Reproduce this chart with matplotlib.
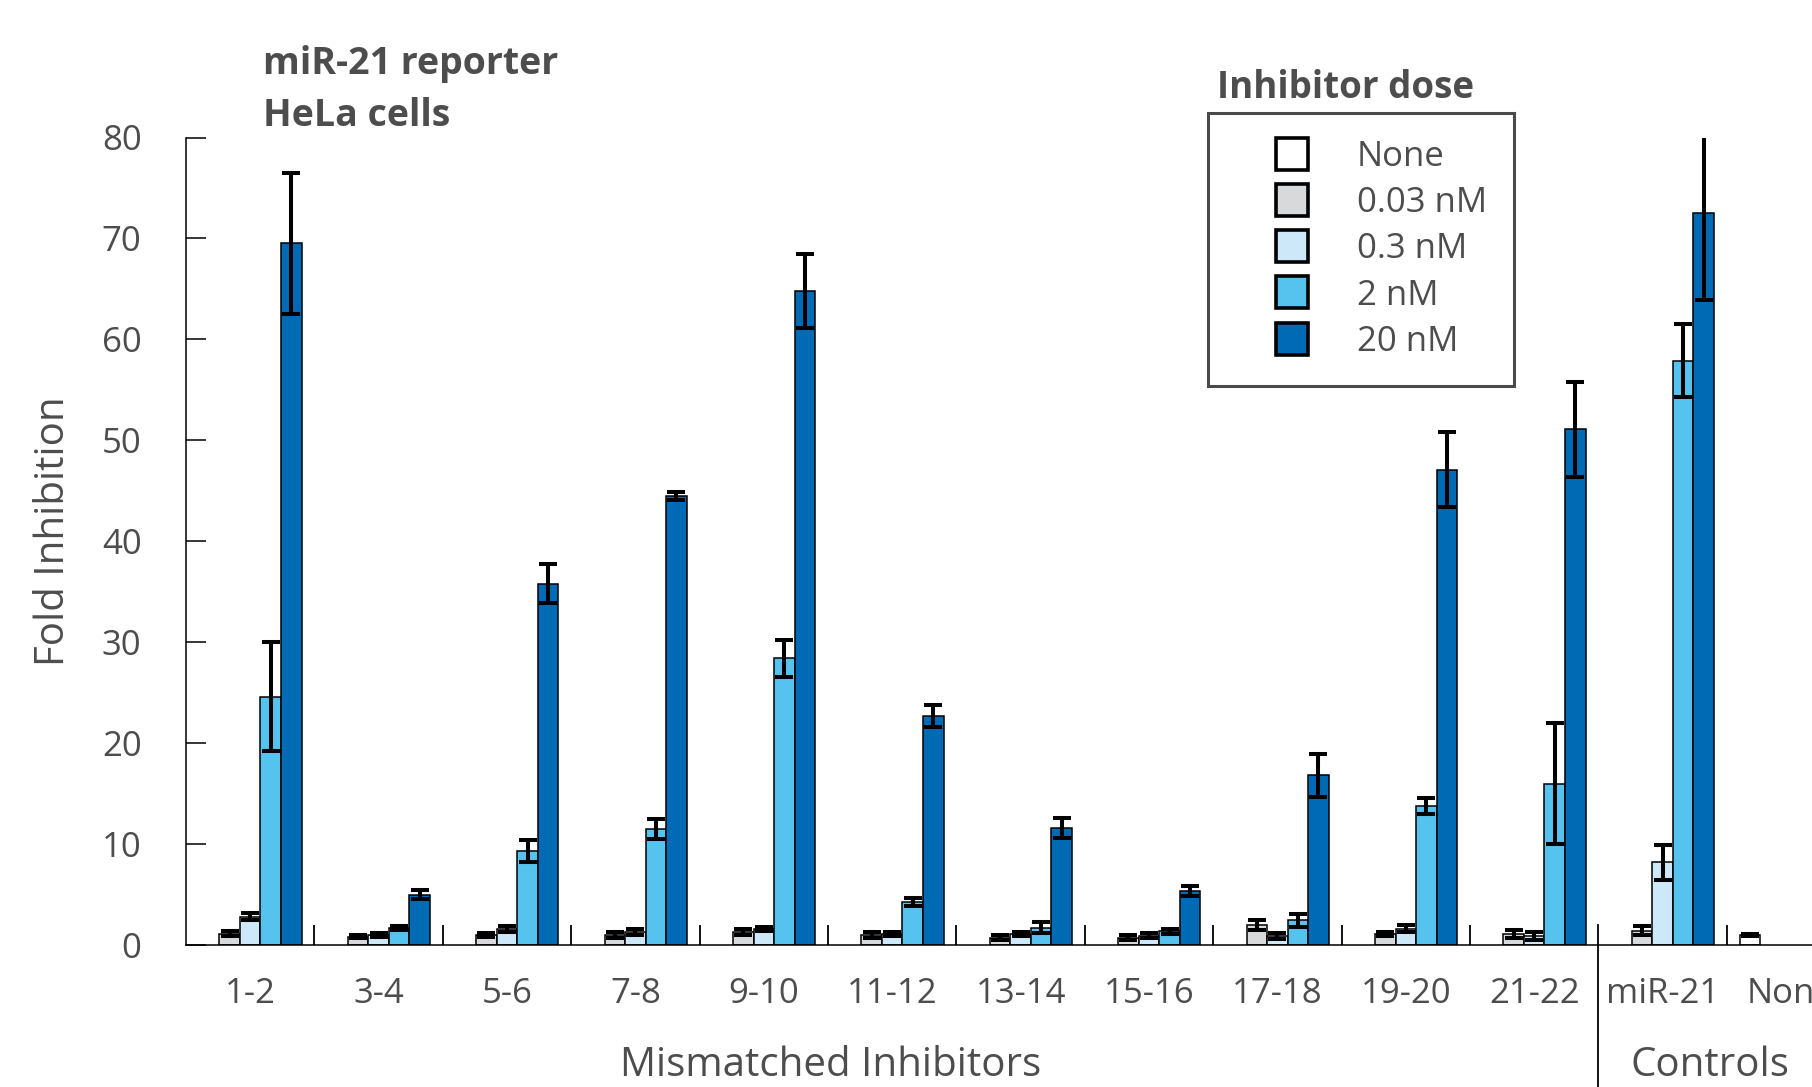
import numpy as np
import matplotlib
matplotlib.use("Agg")
import matplotlib.pyplot as plt
from matplotlib.lines import Line2D

plt.rcParams['font.family'] = ['Open Sans', 'DejaVu Sans']

nan = np.nan

categories = ['1-2', '3-4', '5-6', '7-8', '9-10', '11-12', '13-14',
              '15-16', '17-18', '19-20', '21-22', 'miR-21', 'None']
dose_labels = ['None', '0.03 nM', '0.3 nM', '2 nM', '20 nM']
dose_colors = ['#ffffff', '#d8d9db', '#cde8f8', '#56c3ef', '#006ab5']

# fold inhibition per dose, one entry per category
none_dose = [nan] * 12 + [1.0]
none_err = [nan] * 12 + [0.1]
dose_003 = [1.1, 0.8, 1.0, 1.0, 1.3, 1.0, 0.72, 0.72, 2.0, 1.1, 1.05, 1.43, nan]
err_003 = [0.25, 0.15, 0.2, 0.3, 0.3, 0.28, 0.26, 0.26, 0.5, 0.2, 0.4, 0.41, nan]
dose_03 = [2.8, 0.95, 1.55, 1.3, 1.63, 1.1, 1.1, 0.94, 0.93, 1.63, 0.9, 8.2, nan]
err_03 = [0.33, 0.2, 0.3, 0.28, 0.2, 0.23, 0.23, 0.25, 0.3, 0.38, 0.43, 1.75, nan]
dose_2 = [24.6, 1.7, 9.3, 11.5, 28.4, 4.3, 1.7, 1.35, 2.45, 13.75, 16.0, 57.9, nan]
err_2 = [5.4, 0.2, 1.1, 1.0, 1.8, 0.4, 0.53, 0.25, 0.66, 0.8, 5.95, 3.6, nan]
dose_20 = [69.5, 5.0, 35.8, 44.5, 64.8, 22.7, 11.6, 5.35, 16.8, 47.1, 51.1, 72.5, nan]
err_20 = [7.0, 0.4, 1.95, 0.4, 3.7, 1.1, 1.0, 0.53, 2.1, 3.7, 4.7, 8.6, nan]

series = [(none_dose, none_err), (dose_003, err_003), (dose_03, err_03),
          (dose_2, err_2), (dose_20, err_20)]

txt = '#4d4d4d'
W, H = 1812, 1087
fig = plt.figure(figsize=(W / 100, H / 100), dpi=100)
ax = fig.add_axes([186 / W, 142 / H, 13 * 128.4 / W, 807.5 / H])

x = np.arange(len(categories))
w = 0.16
for i, ((vals, errs), col) in enumerate(zip(series, dose_colors)):
    pos = x + (i - 2) * w
    ax.bar(pos, vals, width=w, color=col, edgecolor='black', linewidth=1.1, zorder=2)
    ax.errorbar(pos, vals, yerr=errs, fmt='none', ecolor='black', elinewidth=2.9,
                capsize=6.5, capthick=2.9, zorder=3)

ax.set_xlim(-0.5, 12.5)
ax.set_ylim(0, 80)
ax.set_yticks(np.arange(0, 81, 10))
ax.spines['top'].set_visible(False)
ax.spines['right'].set_visible(False)
ax.spines['left'].set_linewidth(1.1)
ax.spines['bottom'].set_linewidth(1.1)
ax.tick_params(axis='y', direction='in', length=14.4, width=1.1, pad=32,
               labelsize=25, labelcolor=txt)
ax.set_xticks(x)
ax.set_xticklabels(categories)
ax.tick_params(axis='x', which='major', length=0, pad=23, labelsize=25, labelcolor=txt)
seps = [s + 0.5 for s in range(12) if s != 10]
ax.set_xticks(seps, minor=True)
ax.tick_params(axis='x', which='minor', direction='in', length=14.4, width=1.3)

# divider between mismatched inhibitors and controls
ax.plot([10.5, 10.5], [-0.176, 0.025], transform=ax.get_xaxis_transform(),
        color='black', lw=1.3, clip_on=False)

ax.text(4.52, -0.149, 'Mismatched Inhibitors', transform=ax.get_xaxis_transform(),
        ha='center', va='center', fontsize=29, color=txt)
ax.text(11.37, -0.149, 'Controls', transform=ax.get_xaxis_transform(),
        ha='center', va='center', fontsize=29, color=txt)
fig.text(53.5 / W, 1 - 531.5 / H, 'Fold Inhibition', rotation=90, ha='center',
         va='center', fontsize=29, color=txt)

fig.text(263 / W, 1 - 63.5 / H, 'miR-21 reporter', fontsize=27, fontweight='bold',
         color=txt, va='center')
fig.text(263 / W, 1 - 116.5 / H, 'HeLa cells', fontsize=27, fontweight='bold',
         color=txt, va='center')

handles = [Line2D([], [], ls='', marker='s', markersize=23, markerfacecolor=c,
                  markeredgecolor='black', markeredgewidth=2.6) for c in dose_colors]
leg = fig.legend(handles, dose_labels, loc='upper left',
                 bbox_to_anchor=(1208 / W, 1 - 113 / H), fontsize=25,
                 borderpad=0.78, handlelength=3.28, handletextpad=0.23,
                 labelspacing=0.35, fancybox=False, framealpha=1,
                 edgecolor='#4a4a4a', borderaxespad=0)
leg.get_frame().set_linewidth(2.2)
for t in leg.get_texts():
    t.set_color(txt)
fig.text(1217 / W, 1 - 87.5 / H, 'Inhibitor dose', fontsize=26.5, fontweight='bold',
         color=txt, va='center')

fig.savefig('out.png', dpi=100)
